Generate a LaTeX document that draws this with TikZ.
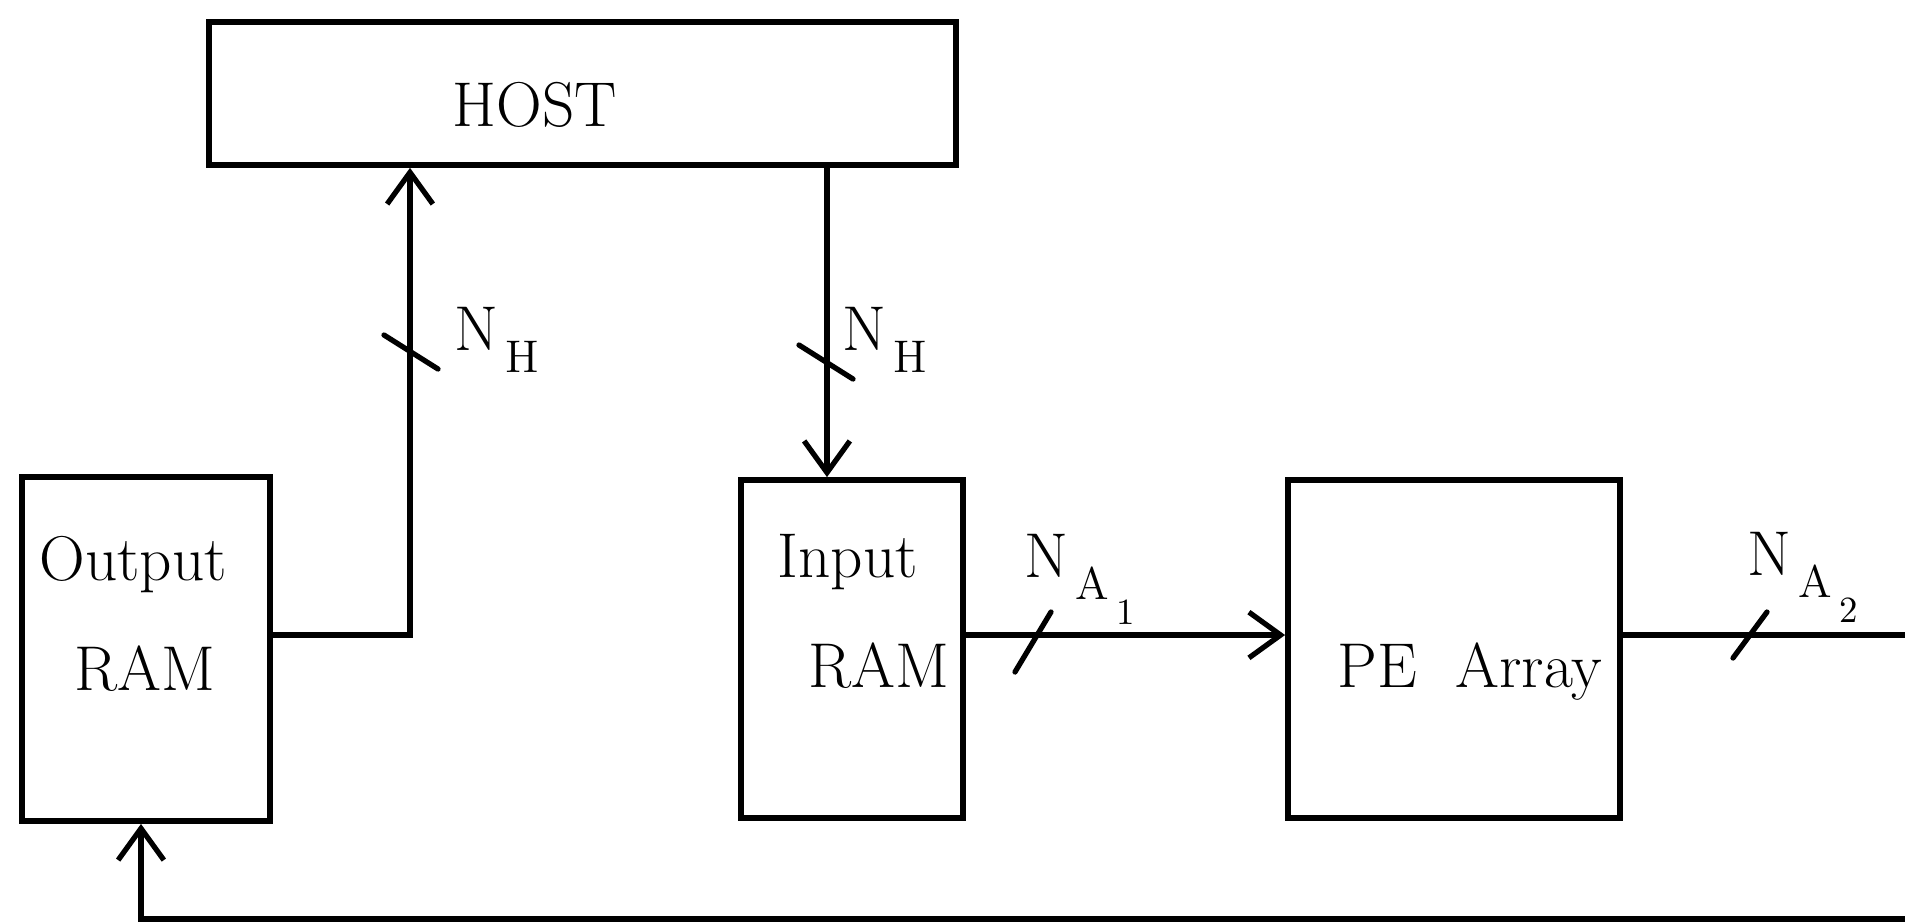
\documentclass[tikz,border=0pt]{standalone}
\usetikzlibrary{arrows.meta}
\newcommand\busub[1]{\kern2pt\raisebox{-6.5pt}{\fontsize{13}{13}\selectfont #1}}
\newcommand\bussubsub[1]{\kern2pt\raisebox{-7pt}{\fontsize{10.5}{10.5}\selectfont #1}}
\begin{document}
\begin{tikzpicture}[x=0.01cm,y=-0.01cm,line width=1.5pt,
  box/.style={draw,line width=1.6pt,inner sep=0pt},
  txt/.style={anchor=base west,inner sep=0pt,font=\fontsize{18}{22}\selectfont},
  arr/.style={-{Straight Barb[length=9pt,width=13pt]}},
  slash/.style={line width=1.5pt,line cap=round}]
\useasboundingbox (0,0) rectangle (1905,923);
% boxes
\node[box,minimum width=7.47cm,minimum height=1.43cm] (host) at (582.5,93.5) {};
\node[box,minimum width=2.48cm,minimum height=3.44cm] (oram) at (146,649) {};
\node[box,minimum width=2.22cm,minimum height=3.38cm] (iram) at (852,649) {};
\node[box,minimum width=3.32cm,minimum height=3.38cm] (pe) at (1454,649) {};
% texts
\node[txt] (hosttxt) at (450,126) {HOST};
\node[txt] (otxt1) at (37,580) {Output};
\node[txt] (otxt2) at (72,690) {RAM};
\node[txt] (itxt1) at (775,577) {Input};
\node[txt] (itxt2) at (806,687) {RAM};
\node[txt] (petxt) at (1335,687) {PE\ \ Array};
% helper coordinates
\coordinate (bus) at (0,635);
\coordinate (upx) at (410,0);
\coordinate (dnx) at (827,0);
\coordinate (fbx) at (141,0);
\coordinate (rtop) at (1905,635);
\coordinate (rbot) at (1905,919);
% connectors
\draw[arr] (oram.east |- bus) -| (host.south -| upx);
\draw[arr] (host.south -| dnx) -- (iram.north -| dnx);
\draw[arr] (iram.east |- bus) -- (pe.west |- bus);
\draw (pe.east |- bus) -- (rtop);
\draw[arr] (rbot) -| (oram.south -| fbx);
% bus-width slashes
\draw[slash] (411,352) +(-27,-17) -- +(27,17);
\draw[slash] (826,362) +(-27,-17) -- +(27,17);
\draw[slash] (1033,642) +(-18,30) -- +(18,-30);
\draw[slash] (1750,635) +(-17,23) -- +(17,-23);
% labels
\node[txt] (nh1) at (452,350) {N\busub{H}};
\node[txt] (nh2) at (840,350) {N\busub{H}};
\node[txt] (na1) at (1022,577) {N\busub{A\bussubsub{1}}};
\node[txt] (na2) at (1745,575) {N\busub{A\bussubsub{2}}};
\end{tikzpicture}
\end{document}
